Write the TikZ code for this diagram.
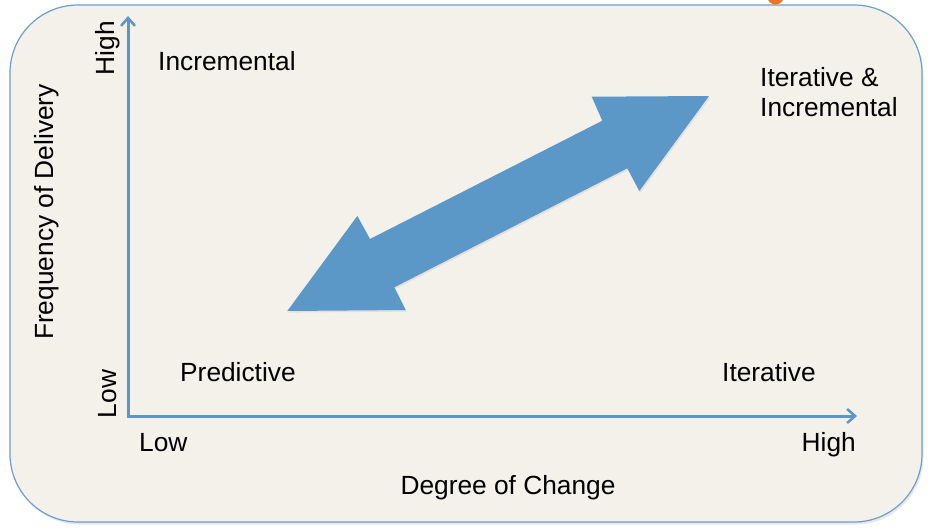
\documentclass[tikz,border=0pt]{standalone}
\usepackage{fontspec}
\setmainfont{Liberation Sans}
\usetikzlibrary{arrows.meta}
\definecolor{bgfill}{HTML}{F4F1EA}
\definecolor{frameblue}{HTML}{6A9FD0}
\definecolor{axisblue}{HTML}{5B96C8}
\definecolor{arrowblue}{HTML}{5B97C7}
\definecolor{titleorange}{HTML}{EE7325}
\begin{document}
\begin{tikzpicture}[x=1pt,y=-1pt,
  lbl/.style={font=\fontsize{26.3}{30}\selectfont, inner sep=0pt, text=black},
  axisline/.style={draw=axisblue, line width=3pt, -{Straight Barb[length=8pt,width=14pt,line width=2.5pt]}}]
\useasboundingbox (0,0) rectangle (930,531);
\fill[white] (0,0) rectangle (930,531);
% frame shadow and frame
\fill[black!9, rounded corners=68pt] (11.5,7.5) rectangle (923.5,524.5);
\filldraw[fill=bgfill, draw=frameblue, line width=1.2pt, rounded corners=68pt] (10,5) rectangle (922,522);
% orange fragment of cut-off title
\begin{scope}
\clip (760,0) rectangle (790,4.8);
\fill[titleorange] (775.5,-4) ellipse (8.5pt and 8.5pt);
\end{scope}
% axes
\coordinate (origin) at (128,416);
\coordinate (ytop) at (128,16);
\coordinate (xend) at (857,416);
\draw[axisline] (origin) -- (ytop);
\draw[axisline] ([xshift=-1.5pt]origin) -- (xend);
% double arrow
\fill[black!12, shift={(1.2,1.6)}] (709,96) -- (591.7,96.7) -- (602.3,120.7) -- (370,239) -- (357.3,216) -- (287.3,311) -- (405.7,310) -- (394.3,287.3) -- (627.3,168.3) -- (639.3,191) -- cycle;
\fill[arrowblue] (709,96) -- (591.7,96.7) -- (602.3,120.7) -- (370,239) -- (357.3,216) -- (287.3,311) -- (405.7,310) -- (394.3,287.3) -- (627.3,168.3) -- (639.3,191) -- cycle;
% labels
\node[lbl, anchor=west] (inc) at (158,61) {Incremental};
\node[lbl, anchor=west, align=left] (itinc) at (760,92) {Iterative \&\\Incremental};
\node[lbl, anchor=west] (pred) at (180,372) {Predictive};
\node[lbl, anchor=west] (iter) at (722,372) {Iterative};
\node[lbl, anchor=west] (xlow) at (139,443) {Low};
\node[lbl, anchor=east] (xhigh) at (856,445) {High};
\node[lbl] (xtitle) at (508,488) {Degree of Change};
\node[lbl, rotate=90] (ytitle) at (47,212) {Frequency of Delivery};
\node[lbl, rotate=90] (yhigh) at (108,48) {High};
\node[lbl, rotate=90] (ylow) at (108,394) {Low};
\end{tikzpicture}
\end{document}
